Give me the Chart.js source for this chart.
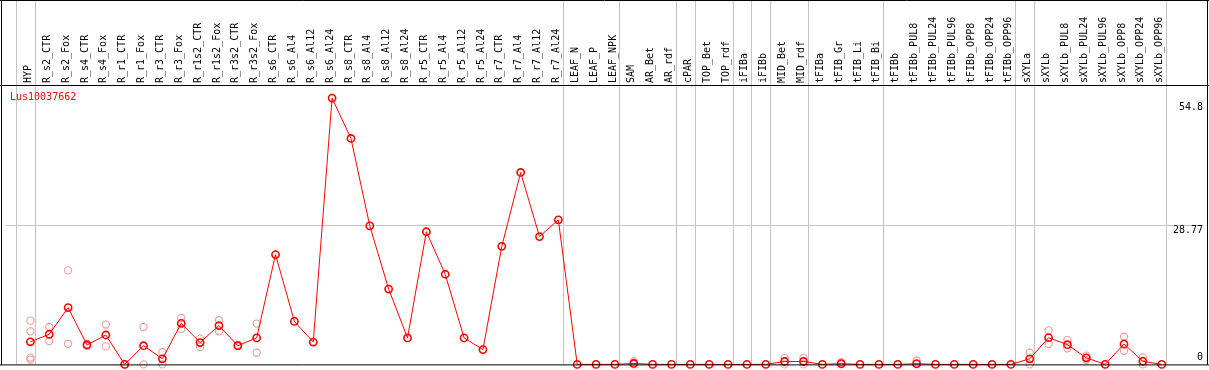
<!DOCTYPE html>
<html><head><meta charset="utf-8">
<style>html,body{margin:0;padding:0;background:#fff}#wrap{width:1209px;height:370px;position:relative}</style>
<script src="https://cdn.jsdelivr.net/npm/chart.js@4.4.0/dist/chart.umd.min.js"></script>
</head><body><div id="wrap"><canvas id="c" width="1209" height="370"></canvas></div>
<script>
const geneName = 'Lus10037662';
const categories = ['HYP','R_s2_CTR','R_s2_Fox','R_s4_CTR','R_s4_Fox','R_r1_CTR','R_r1_Fox','R_r3_CTR','R_r3_Fox','R_r1s2_CTR',
 'R_r1s2_Fox','R_r3s2_CTR','R_r3s2_Fox','R_s6_CTR','R_s6_Al4','R_s6_Al12','R_s6_Al24','R_s8_CTR','R_s8_Al4','R_s8_Al12',
 'R_s8_Al24','R_r5_CTR','R_r5_Al4','R_r5_Al12','R_r5_Al24','R_r7_CTR','R_r7_Al4','R_r7_Al12','R_r7_Al24','LEAF_N',
 'LEAF_P','LEAF_NPK','SAM','AR_Bet','AR_rdf','cPAR','TOP_Bet','TOP_rdf','iFIBa','iFIBb',
 'MID_Bet','MID_rdf','tFIBa','tFIB_Gr','tFIB_Li','tFIB_Bi','tFIBb','tFIBb_PUL8','tFIBb_PUL24','tFIBb_PUL96',
 'tFIBb_OPP8','tFIBb_OPP24','tFIBb_OPP96','sXYLa','sXYLb','sXYLb_PUL8','sXYLb_PUL24','sXYLb_PUL96','sXYLb_OPP8','sXYLb_OPP24',
 'sXYLb_OPP96'];
const meanValues = [4.65, 6.2, 11.7, 4.0, 6.05, 0, 3.85, 1.15, 8.45, 4.5,
 8.0, 3.85, 5.45, 22.6, 8.85, 4.6, 54.8, 46.5, 28.5, 15.5,
 5.45, 27.3, 18.55, 5.45, 3.05, 24.3, 39.5, 26.3, 29.75, 0,
 0, 0, 0.2, 0, 0, 0, 0, 0, 0, 0,
 0.6, 0.6, 0, 0.15, 0, 0, 0, 0.15, 0, 0,
 0, 0, 0, 1.15, 5.5, 4.05, 1.35, 0, 4.2, 0.65,
 0];
const rep1 = [9.0, 7.7, 19.35, 4.2, 8.2, 0, 7.7, 2.5, 9.55, 5.3,
 9.1, 4.0, 8.4, null, null, null, null, null, null, null,
 null, null, null, null, null, null, null, null, null, null,
 null, null, 0.6, null, null, null, null, null, null, null,
 1.35, 1.35, null, 0.45, null, null, null, 0.8, null, null,
 null, null, null, 2.4, 7.0, 5.0, 1.8, null, 5.7, 1.45,
 null];
const rep2 = [6.8, 4.8, 4.25, 3.8, 3.7, 0, 0, 0, 7.3, 3.6,
 6.8, 3.7, 2.4, null, null, null, null, null, null, null,
 null, null, null, null, null, null, null, null, null, null,
 null, null, 0, null, null, null, null, null, null, null,
 0, 0, null, 0, null, null, null, 0, null, null,
 null, null, null, 0, 4.2, 3.3, 0.95, null, 2.8, 0,
 null];
const rep3 = [1.4];
const rep4 = [1.0];
const yTickValues = [0, 28.77, 54.8];
const groupEnds = [-1, 0, 28, 31, 34, 35, 37, 38, 39, 41, 45, 52, 53, 60];

const FONT = 'DejaVu Sans Mono';
const toPts = arr => arr.map((v,i)=>v==null?null:{x:i,y:v}).filter(p=>p);
const repStyle = { showLine: false, pointStyle: 'circle', pointRadius: 3.6, pointBorderWidth: 1.1,
  pointBorderColor: '#f09a9a', pointBackgroundColor: 'rgba(0,0,0,0)', clip: false };

const framePlugin = {
  id: 'frame',
  beforeDatasetsDraw(chart){
    const {ctx, chartArea:a, scales:{x, y}} = chart;
    ctx.save(); ctx.strokeStyle = '#c4c4c4'; ctx.lineWidth = 1;
    ctx.beginPath();
    groupEnds.forEach(k => { const px = Math.round(x.getPixelForValue(k + 0.237)) + 0.5; ctx.moveTo(px, 0); ctx.lineTo(px, a.bottom); });
    yTickValues.forEach(v => { if (v > 0 && v < yTickValues[yTickValues.length-1]) { const py = Math.round(y.getPixelForValue(v)) + 0.5; ctx.moveTo(a.left, py); ctx.lineTo(a.right, py); } });
    ctx.stroke(); ctx.restore();
  },
  afterDraw(chart){
    const {ctx, chartArea:a, scales:{y}} = chart;
    ctx.save(); ctx.strokeStyle = '#000'; ctx.lineWidth = 1; ctx.beginPath();
    ctx.moveTo(1.5, 0); ctx.lineTo(1.5, a.bottom + 0.5);
    ctx.moveTo(0, 0.5); ctx.lineTo(1209, 0.5);
    ctx.moveTo(1207.5, 0); ctx.lineTo(1207.5, a.bottom + 0.5);
    ctx.moveTo(0, a.top + 0.5); ctx.lineTo(1209, a.top + 0.5);
    ctx.moveTo(0, a.bottom + 0.5); ctx.lineTo(1209, a.bottom + 0.5);
    ctx.stroke();
    ctx.font = '10px "' + FONT + '"';
    ctx.fillStyle = '#ff0000'; ctx.textAlign = 'left'; ctx.textBaseline = 'alphabetic';
    ctx.fillText(geneName, 10, a.top + 15);
    ctx.fillStyle = '#000'; ctx.textAlign = 'right';
    const last = yTickValues.length - 1;
    yTickValues.forEach((v, i) => {
      const py = y.getPixelForValue(v);
      if (i === 0) { ctx.textBaseline = 'alphabetic'; ctx.fillText(String(v), 1203, py - 4); }
      else if (i === last) { ctx.textBaseline = 'top'; ctx.fillText(String(v), 1203, py + 4); }
      else { ctx.textBaseline = 'top'; ctx.fillText(String(v), 1203, py + 1); }
    });
    ctx.restore();
  }
};

new Chart(document.getElementById('c'), {
  type: 'line',
  data: { datasets: [
    { data: toPts(meanValues), borderColor: '#ff0000', borderWidth: 1, pointStyle: 'circle', pointRadius: 3.6,
      pointBorderWidth: 1.6, pointBorderColor: '#ff0000', pointBackgroundColor: 'rgba(0,0,0,0)', tension: 0, clip: false, fill: false },
    Object.assign({ data: toPts(rep1) }, repStyle),
    Object.assign({ data: toPts(rep2) }, repStyle),
    Object.assign({ data: toPts(rep3) }, repStyle),
    Object.assign({ data: toPts(rep4) }, repStyle)
  ]},
  options: {
    responsive: false, animation: false, events: [],
    layout: { padding: { left: 1, right: 1, top: 0, bottom: 1 } },
    plugins: { legend: { display: false }, tooltip: { enabled: false }, title: { display: false } },
    scales: {
      x: {
        type: 'linear', position: 'top', min: -25/19, max: -25/19 + 1207/19,
        afterBuildTicks: s => { s.ticks = categories.map((c, i) => ({ value: i })); },
        afterFit: s => { s.height = 85; },
        grid: { display: false, drawTicks: false }, border: { display: false },
        ticks: { autoSkip: false, minRotation: 90, maxRotation: 90, padding: 2, labelOffset: 10, color: '#000',
          font: { family: FONT, size: 10 }, callback: v => categories[v] }
      },
      y: {
        type: 'linear', display: false, min: 0, max: 57.5,
        afterBuildTicks: s => { s.ticks = yTickValues.map(v => ({ value: v })); }
      }
    }
  },
  plugins: [framePlugin]
});
</script></body></html>
